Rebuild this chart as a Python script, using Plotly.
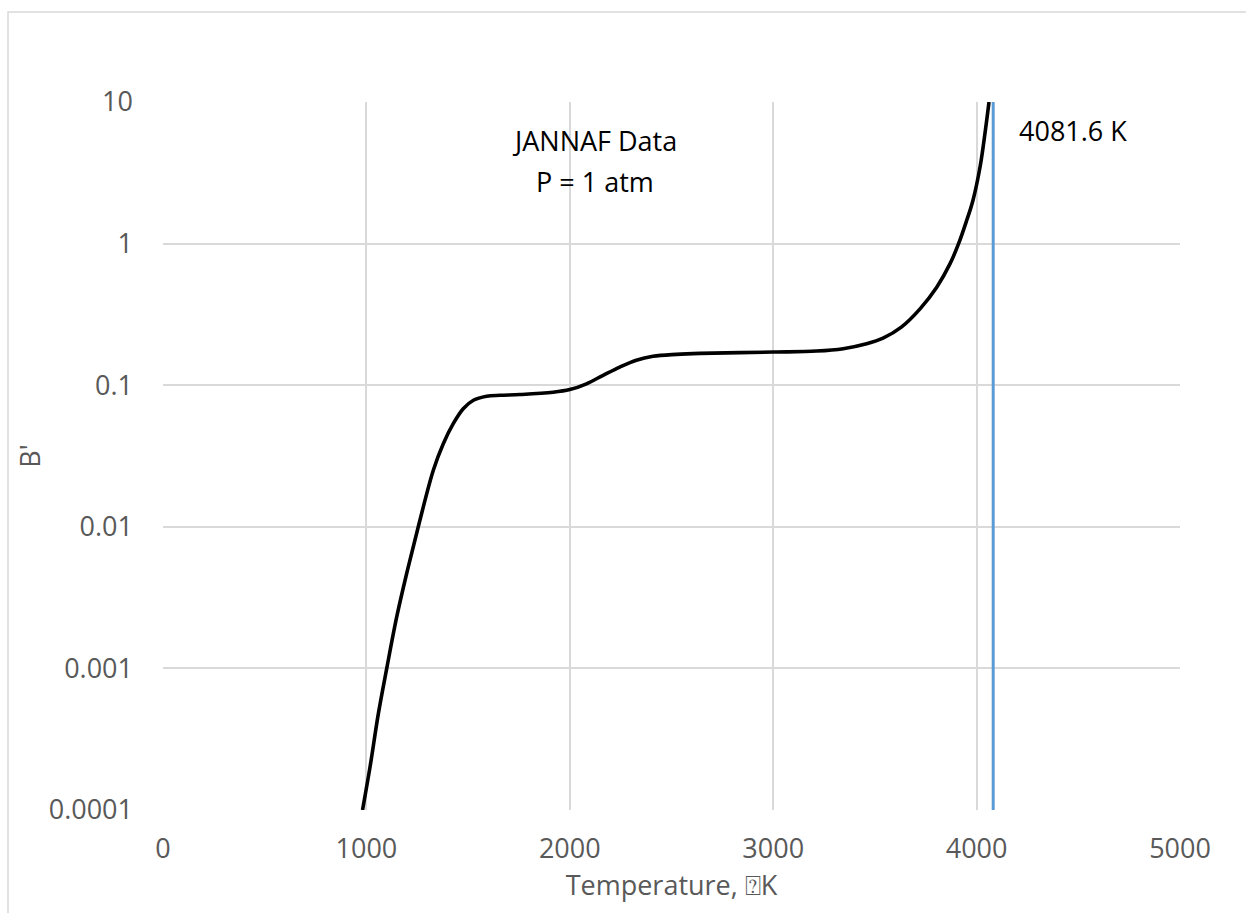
import plotly.graph_objects as go

# Data
temperature_K = [981, 1018, 1059, 1100, 1149, 1198, 1255, 1329, 1378, 1427, 1476,
                 1526, 1591, 1657, 1754, 1918, 2000, 2082, 2164, 2246, 2327, 2409, 2524,
                 2639, 3000, 3213, 3344, 3459, 3540, 3630, 3722, 3804, 3869,
                 3910, 3951, 3982, 4018, 4043, 4061]
b_prime = [0.0001, 0.000202, 0.000481, 0.001, 0.00231, 0.00468, 0.0100, 0.0251,
           0.0386, 0.0535, 0.0682, 0.0783, 0.0836, 0.0849, 0.0859, 0.0891, 0.0931, 0.1023,
           0.1175, 0.1343, 0.150, 0.160, 0.1652, 0.1679, 0.1714, 0.1742, 0.1811, 0.1963,
           0.2150, 0.2570, 0.346, 0.492, 0.719, 0.986, 1.455, 2.018, 3.55,
           6.295, 10.0]
limit_T = [4081.6, 4081.6]
limit_B = [0.0001, 10]

y_tickvals = [0.0001, 0.001, 0.01, 0.1, 1, 10]
y_ticktext = ["0.0001", "0.001", "0.01", "0.1", "1", "10"]
x_tickvals = [0, 1000, 2000, 3000, 4000, 5000]

FONT = "Open Sans"
GRID = "#d9d9d9"
TXT = "#595959"
FS = 27

fig = go.Figure()
fig.add_trace(go.Scatter(x=temperature_K, y=b_prime, mode="lines",
                         line=dict(color="black", width=3.6, shape="spline", smoothing=1.0),
                         showlegend=False))
fig.add_trace(go.Scatter(x=limit_T, y=limit_B, mode="lines",
                         line=dict(color="#5B9BD5", width=3), showlegend=False))

fig.add_annotation(x=2123, y=0.728, xref="x", yref="y", yanchor="middle",
                   text="JANNAF Data", showarrow=False,
                   font=dict(family=FONT, size=FS, color="black"))
fig.add_annotation(x=2123, y=0.439, xref="x", yref="y", yanchor="middle",
                   text="P = 1 atm", showarrow=False,
                   font=dict(family=FONT, size=FS, color="black"))
fig.add_annotation(x=4201, y=0.799, xref="x", yref="y", xanchor="left", yanchor="middle",
                   text="4081.6 K", showarrow=False,
                   font=dict(family=FONT, size=FS, color="black"))

# outer chart border (cropped at right/bottom)
fig.add_shape(type="rect", xref="paper", yref="paper",
              x0=-0.1524, x1=1.07, y0=-0.152, y1=1.127,
              line=dict(color=GRID, width=1.5), layer="below")

fig.update_layout(
    width=1246, height=913,
    margin=dict(l=163, r=66, t=102, b=103),
    paper_bgcolor="white", plot_bgcolor="white",
    font=dict(family=FONT, size=FS, color=TXT),
    xaxis=dict(range=[0, 5000], tickvals=x_tickvals, showgrid=True, gridcolor=GRID,
               gridwidth=1.5, zeroline=False, showline=False, ticks="",
               ticklabelstandoff=20,
               tickfont=dict(size=FS, color=TXT),
               title=dict(text="Temperature, \u2370K", font=dict(size=FS, color=TXT),
                          standoff=8)),
    yaxis=dict(type="log", range=[-4, 1], tickvals=y_tickvals, ticktext=y_ticktext,
               showgrid=True, gridcolor=GRID, gridwidth=1.5, zeroline=False,
               showline=False, ticks="", ticklabelstandoff=29,
               tickfont=dict(size=FS, color=TXT),
               title=dict(text="B'", font=dict(size=FS, color=TXT), standoff=0)),
)

fig.write_html("out.html")
